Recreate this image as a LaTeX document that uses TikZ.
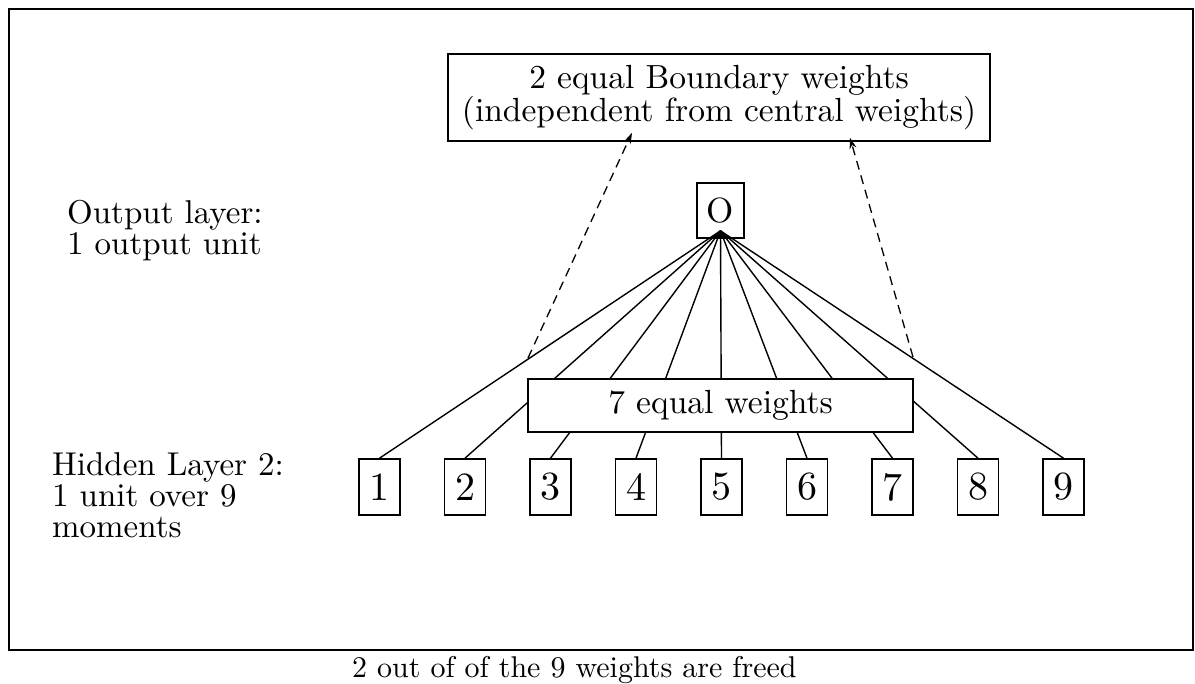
\documentclass[tikz,border=0pt]{standalone}
\usepackage{fontspec}
\setmainfont{lmroman10-regular.otf}
\usetikzlibrary{arrows.meta}
\begin{document}
\begin{tikzpicture}[x=1pt,y=-1pt,
  txt/.style={font=\fontsize{33}{31}\selectfont, inner sep=0pt},
  box/.style={draw, line width=1.6pt, fill=white, inner sep=0pt},
  unit/.style={box, minimum width=41pt, minimum height=56pt, font=\fontsize{40}{40}\selectfont},
  link/.style={line width=1.4pt},
  freed/.style={line width=1.3pt, dashed, dash pattern=on 9pt off 6pt, -{Stealth[length=11pt,width=7pt]}}
]
\useasboundingbox (0,0) rectangle (1195,684);
% outer frame
\draw[line width=2.8pt] (9,9) rectangle (1193,650);

% boundary weights box
\node[box, minimum width=542pt, minimum height=87pt, align=center, font=\fontsize{33.5}{31}\selectfont] (bw) at (719,97.5)
  {2 equal Boundary weights\\(independent from central weights)};

% output unit
\node[box, minimum width=47pt, minimum height=55pt, font=\fontsize{35}{35}\selectfont] (o) at (720.5,210.5) {O};
\coordinate (apex) at ([yshift=8pt]o.south);

% hidden layer units
\foreach \i in {1,...,9} {
  \node[unit] (h\i) at ({379.5+85.5*(\i-1)},487) {\i};
}

% connections from every hidden unit to the output unit
\foreach \i in {1,...,9} {
  \draw[link] (h\i.north) -- (apex);
}
\fill (apex) -- ++(-9,8) -- ++(18,0) -- cycle;

% shared central weights
\node[box, minimum width=385pt, minimum height=53pt, font=\fontsize{33.5}{31}\selectfont] (cw) at (720.5,405.5) {7 equal weights};

% freed boundary weights
\coordinate (fl) at (528,358);
\coordinate (fr) at (913,357);
\draw[freed] (fl) -- ([xshift=-87pt,yshift=9pt]bw.south);
\draw[freed] (fr) -- ([xshift=131pt,yshift=4pt]bw.south);

% layer labels
\node[txt, anchor=north west, align=left] (lo) at (67,200) {Output layer:\\1 output unit};
\node[txt, anchor=north west, align=left] (lh) at (52,452) {Hidden Layer 2:\\1 unit over 9\\moments};

% caption
\node[txt, anchor=base west, font=\fontsize{30}{30}\selectfont] (cap) at (352,677) {2 out of of the 9 weights are freed};
\end{tikzpicture}
\end{document}
